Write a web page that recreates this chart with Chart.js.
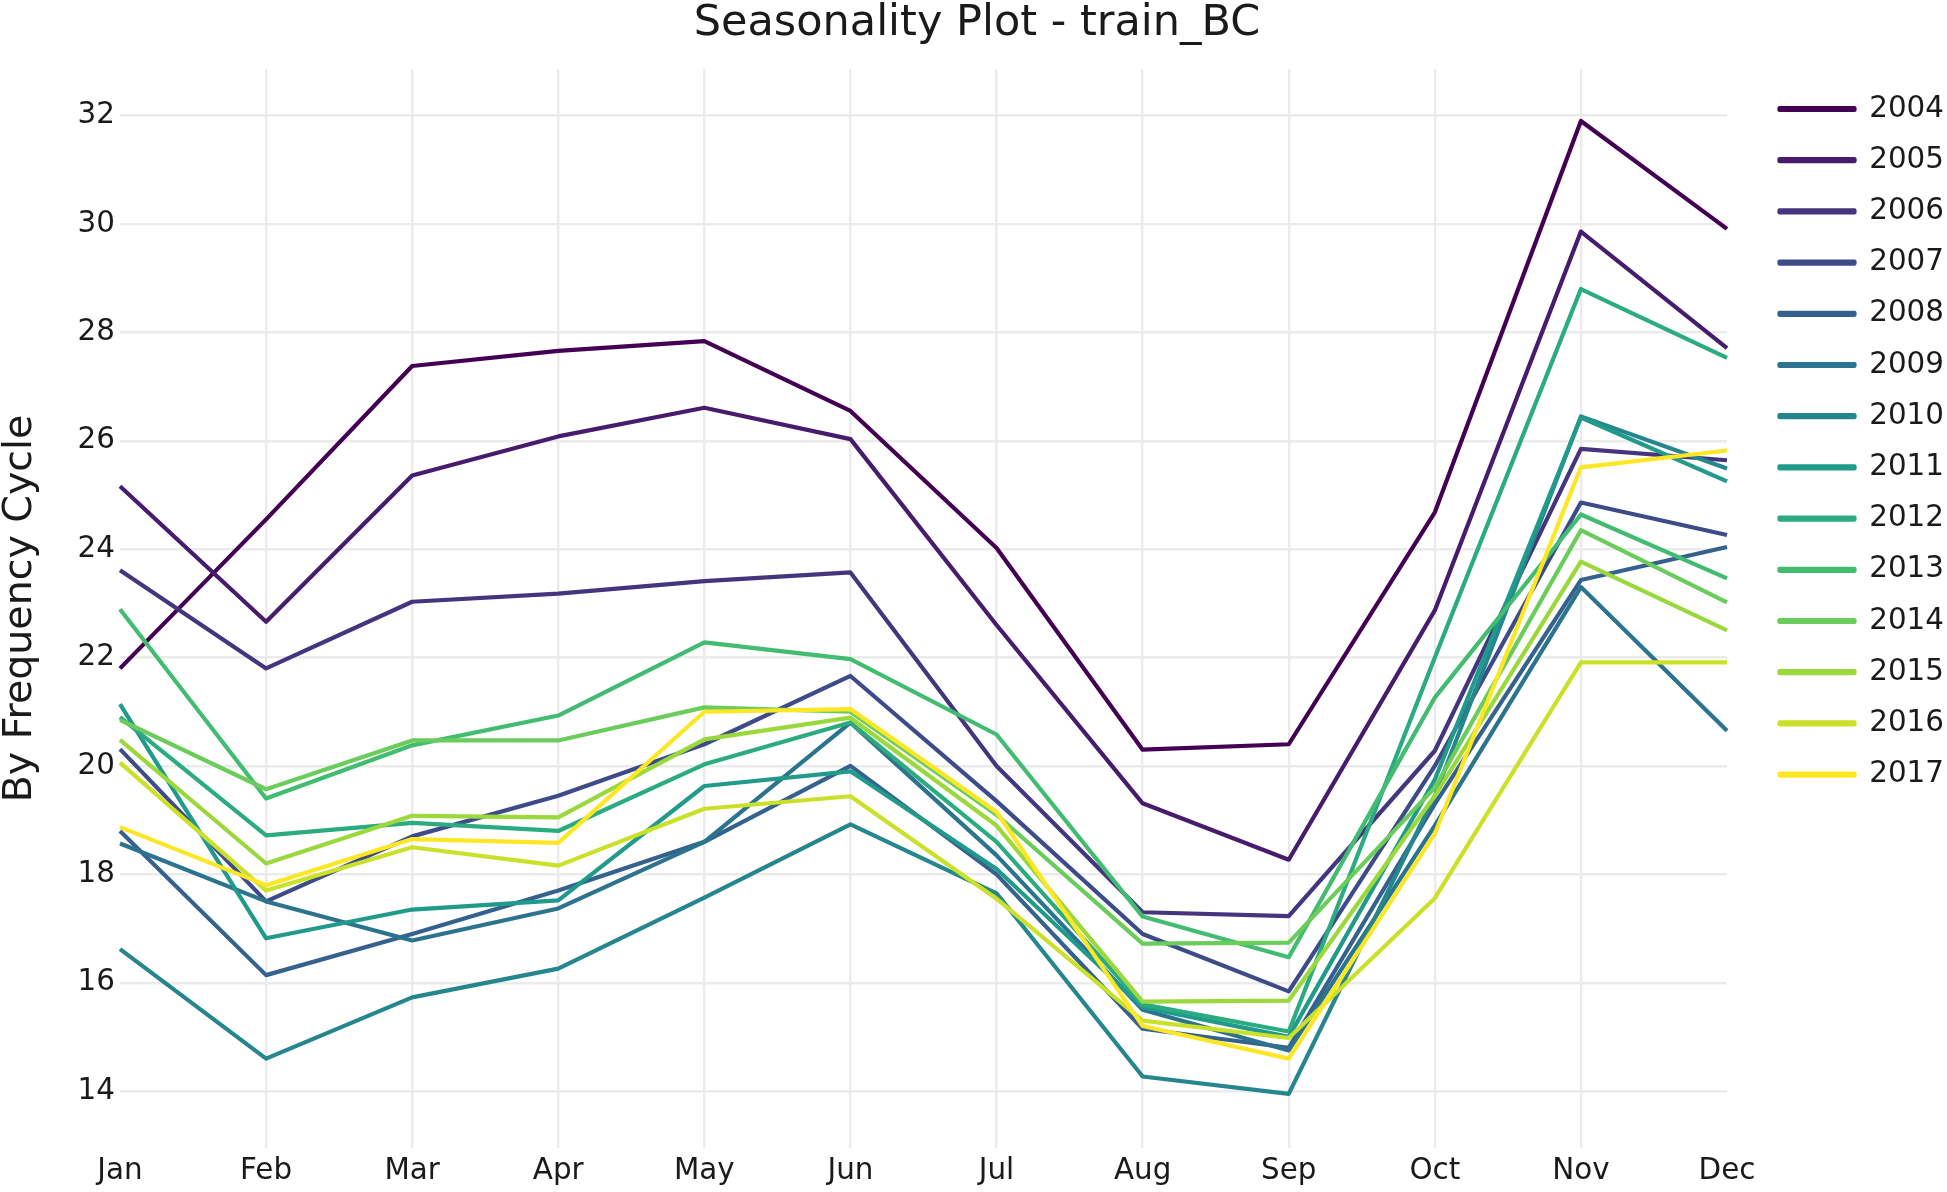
<!DOCTYPE html>
<html>
<head>
<meta charset="utf-8">
<title>Seasonality Plot - train_BC</title>
<script src="https://cdn.jsdelivr.net/npm/chart.js@4.4.1/dist/chart.umd.min.js"></script>
<style>
  html, body { margin: 0; padding: 0; background: #ffffff; }
  #wrap { width: 1947px; height: 1192px; }
</style>
</head>
<body>
<div id="wrap"><canvas id="seasonChart" width="1947" height="1192"></canvas></div>
<script>
'use strict';

// ── Data ─────────────────────────────────────────────────
const MONTHS = ['Jan', 'Feb', 'Mar', 'Apr', 'May', 'Jun', 'Jul', 'Aug', 'Sep', 'Oct', 'Nov', 'Dec'];
const YEARS  = ['2004', '2005', '2006', '2007', '2008', '2009', '2010',
                '2011', '2012', '2013', '2014', '2015', '2016', '2017'];

const Y2004 = [21.80, 24.55, 27.38, 27.66, 27.84, 26.55, 24.02, 20.30, 20.40, 24.68, 31.90, 29.91];
const Y2005 = [25.16, 22.66, 25.36, 26.08, 26.61, 26.03, 22.60, 19.31, 18.27, 22.87, 29.86, 27.71];
const Y2006 = [23.61, 21.80, 23.03, 23.18, 23.41, 23.57, 20.00, 17.30, 17.23, 20.28, 25.85, 25.64];
const Y2007 = [20.31, 17.50, 18.70, 19.45, 20.40, 21.66, 19.35, 16.90, 15.84, 20.00, 24.86, 24.26];
const Y2008 = [18.80, 16.14, 16.90, 17.70, 18.60, 20.00, 18.00, 15.15, 14.80, 19.30, 23.43, 24.04];
const Y2009 = [18.57, 17.50, 16.78, 17.37, 18.60, 20.80, 18.35, 15.50, 14.75, 18.90, 23.30, 20.65];
const Y2010 = [16.62, 14.60, 15.73, 16.26, 17.57, 18.92, 17.65, 14.27, 13.95, 19.45, 26.45, 25.49];
const Y2011 = [21.14, 16.82, 17.35, 17.52, 19.63, 19.90, 18.10, 15.55, 15.00, 19.75, 26.43, 25.25];
const Y2012 = [20.90, 18.72, 18.95, 18.80, 20.03, 20.80, 18.60, 15.60, 15.10, 22.00, 28.80, 27.53];
const Y2013 = [22.89, 19.40, 20.38, 20.93, 22.28, 21.97, 20.58, 17.22, 16.47, 21.26, 24.64, 23.46];
const Y2014 = [20.85, 19.57, 20.47, 20.47, 21.08, 21.00, 19.10, 16.72, 16.74, 19.60, 24.35, 23.02];
const Y2015 = [20.48, 18.20, 19.08, 19.05, 20.49, 20.89, 18.90, 15.65, 15.67, 19.45, 23.77, 22.50];
const Y2016 = [20.06, 17.70, 18.50, 18.16, 19.21, 19.44, 17.55, 15.30, 14.98, 17.56, 21.91, 21.91];
const Y2017 = [18.87, 17.80, 18.65, 18.58, 21.00, 21.05, 19.15, 15.20, 14.60, 18.75, 25.51, 25.82];

const SERIES = [Y2004, Y2005, Y2006, Y2007, Y2008, Y2009, Y2010,
                Y2011, Y2012, Y2013, Y2014, Y2015, Y2016, Y2017];

// viridis, one step per year
const COLORS = ['#440154', '#471c6d', '#44357e', '#3d4b89', '#34618d', '#2c748e', '#25868d',
                '#209a8a', '#2bab80', '#42bc71', '#6acc5b', '#9ad83c', '#cbe129', '#fde725'];

const Y_MIN = 12.95;
const Y_MAX = 32.86;
const Y_STEP = 2;

// ── Look ─────────────────────────────────────────────────
const FONT  = "'DejaVu Sans', Verdana, sans-serif";
const INK   = '#1a1a1a';
const GRID  = '#ebebeb';

Chart.defaults.font.family = FONT;
Chart.defaults.color       = INK;

const datasets = YEARS.map((year, i) => ({
  label: year,
  data: SERIES[i],
  yAxisID: 'y',
  borderColor: COLORS[i],
  backgroundColor: COLORS[i],
  borderWidth: 4.2,
  borderJoinStyle: 'round',
  pointRadius: 0,
  pointHoverRadius: 0,
  tension: 0,
  fill: false,
  order: YEARS.length - i,          // later years drawn on top
}));

new Chart(document.getElementById('seasonChart').getContext('2d'), {
  type: 'line',
  data: { labels: MONTHS, datasets },
  options: {
    responsive: false,
    animation: false,
    events: [],
    layout: { padding: { left: 0, top: 0, bottom: 0, right: -7 } },
    plugins: {
      title: {
        display: true,
        text: 'Seasonality Plot - train_BC',
        color: INK,
        font: { size: 43, weight: 'normal', lineHeight: 1 },
        padding: { top: 2, bottom: 24 },
      },
      legend: {
        position: 'right',
        align: 'start',
        title: { display: true, text: ' ', font: { size: 10 }, padding: { top: 30, bottom: 30.5 } },
        labels: {
          boxWidth: 75,
          boxHeight: 2,
          padding: 21.8,
          color: INK,
          font: { size: 29.4 },
          sort: (a, b) => a.datasetIndex - b.datasetIndex,
        },
      },
      tooltip: { enabled: false },
    },
    scales: {
      x: {
        type: 'category',
        offset: false,
        border: { display: false },
        grid: {
          color: c => (c.index === 0 || c.index === MONTHS.length - 1) ? 'rgba(0,0,0,0)' : GRID,
          lineWidth: 2.4,
          drawTicks: false,
        },
        ticks: { color: INK, font: { size: 29.4 }, padding: 6, maxRotation: 0, autoSkip: false },
        afterFit: s => { s.height = 44; },
      },
      y: {
        type: 'linear',
        position: 'left',
        min: Y_MIN,
        max: Y_MAX,
        border: { display: false },
        grid: { color: GRID, lineWidth: 2.4, drawTicks: false },
        ticks: { stepSize: Y_STEP, includeBounds: false, color: INK, font: { size: 29.4 }, padding: 5 },
        title: {
          display: true,
          text: 'By Frequency Cycle',
          color: INK,
          font: { size: 39.5, lineHeight: 1 },
          padding: { top: 1, bottom: 0 },
        },
        afterFit: s => { s.width = 120; },
      },
      // spacer between plot and legend
      yr: {
        type: 'linear',
        position: 'right',
        border: { display: false },
        grid: { display: false, drawTicks: false },
        ticks: { display: false },
        afterFit: s => { s.width = 30.7; },
      },
    },
  },
});
</script>
</body>
</html>
